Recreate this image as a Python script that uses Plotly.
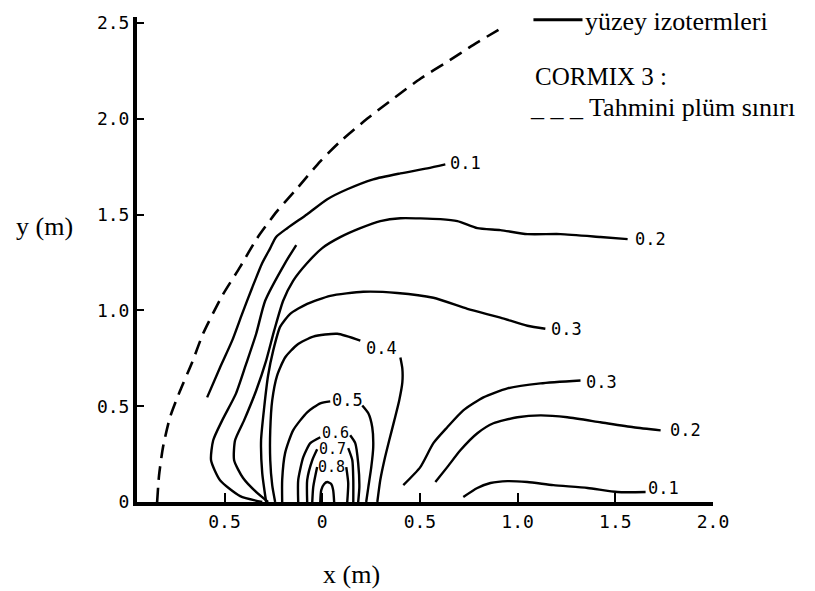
import plotly.graph_objects as go

# ---- axis ticks ----
x_tick_vals = [-1.0, -0.5, 0.0, 0.5, 1.0, 1.5, 2.0]
x_tick_text = ["-1.0", "0.5", "0", "0.5", "1.0", "1.5", "2.0"]
y_tick_vals = [0.0, 0.5, 1.0, 1.5, 2.0, 2.5]
y_tick_text = ["0", "0.5", "1.0", "1.5", "2.0", "2.5"]

# ---- CORMIX 3 predicted plume boundary (dashed) ----
plume_x = [-0.845, -0.835, -0.815, -0.779, -0.727, -0.666, -0.610, -0.512, -0.420, -0.333,
           -0.231, -0.128, -0.010, 0.092, 0.231, 0.364, 0.502, 0.640, 0.774, 0.902]
plume_y = [0.0, 0.140, 0.286, 0.442, 0.582, 0.728, 0.878, 1.076, 1.227, 1.377,
           1.518, 1.637, 1.778, 1.881, 2.001, 2.105, 2.209, 2.297, 2.386, 2.464]

# ---- surface isotherms (solid) ----
iso01_up_x = [-0.589, -0.523, -0.461, -0.410, -0.359, -0.307, -0.266, -0.236, -0.179, -0.077,
              0.026, 0.128, 0.261, 0.400, 0.538, 0.630]
iso01_up_y = [0.546, 0.702, 0.842, 0.982, 1.117, 1.247, 1.325, 1.383, 1.429, 1.502,
              1.580, 1.632, 1.684, 1.715, 1.741, 1.762]

iso015_x = [-0.133, -0.190, -0.292, -0.338, -0.389, -0.441, -0.512, -0.558, -0.569, -0.523,
            -0.420, -0.307]
iso015_y = [1.341, 1.247, 1.050, 0.878, 0.722, 0.567, 0.426, 0.322, 0.218, 0.114,
            0.031, 0.0]

iso02_up_x = [1.563, 1.424, 1.219, 1.050, 0.912, 0.794, 0.692, 0.605, 0.400, 0.297, 0.195,
              0.092, 0.0, -0.077, -0.149, -0.200, -0.246, -0.287, -0.338, -0.400, -0.446,
              -0.451, -0.405, -0.333, -0.277]
iso02_up_y = [1.372, 1.383, 1.398, 1.398, 1.419, 1.429, 1.466, 1.476, 1.481, 1.466, 1.429,
              1.382, 1.325, 1.247, 1.154, 1.050, 0.894, 0.738, 0.582, 0.426, 0.322,
              0.218, 0.125, 0.047, 0.0]

iso03_up_x = [1.142, 1.050, 0.912, 0.743, 0.569, 0.384, 0.210, 0.041, -0.077, -0.164, -0.215,
              -0.251, -0.277, -0.297, -0.313, -0.307, -0.287]
iso03_up_y = [0.904, 0.920, 0.962, 1.008, 1.066, 1.091, 1.097, 1.076, 1.034, 0.982, 0.915,
              0.790, 0.660, 0.494, 0.322, 0.151, 0.0]

iso04_l_x = [0.195, 0.077, -0.046, -0.128, -0.190, -0.231, -0.256, -0.266, -0.266, -0.256, -0.241]
iso04_l_y = [0.842, 0.878, 0.863, 0.821, 0.754, 0.660, 0.530, 0.374, 0.218, 0.088, 0.0]
iso04_r_x = [0.400, 0.410, 0.410, 0.394, 0.369, 0.343, 0.318, 0.297, 0.282]
iso04_r_y = [0.754, 0.696, 0.624, 0.530, 0.426, 0.322, 0.218, 0.114, 0.0]

iso05_l_x = [-0.205, -0.205, -0.190, -0.149, -0.077, -0.010, 0.041]
iso05_l_y = [0.0, 0.114, 0.255, 0.374, 0.468, 0.515, 0.525]
iso05_r_x = [0.205, 0.236, 0.256, 0.261, 0.251, 0.236, 0.225]
iso05_r_y = [0.504, 0.463, 0.390, 0.286, 0.182, 0.078, 0.0]

iso06_l_x = [-0.123, -0.123, -0.097, -0.061, -0.010]
iso06_l_y = [0.0, 0.114, 0.234, 0.307, 0.338]
iso06_r_x = [0.143, 0.169, 0.184, 0.190, 0.184]
iso06_r_y = [0.348, 0.307, 0.203, 0.078, 0.0]

iso07_l_x = [-0.077, -0.077, -0.051, -0.026]
iso07_l_y = [0.0, 0.114, 0.218, 0.275]
iso07_r_x = [0.133, 0.154, 0.159, 0.159]
iso07_r_y = [0.281, 0.218, 0.114, 0.0]

iso08_l_x = [-0.051, -0.046, -0.026]
iso08_l_y = [0.0, 0.078, 0.182]
iso08_r_x = [0.123, 0.133, 0.128]
iso08_r_y = [0.182, 0.099, 0.0]

iso09_x = [-0.010, -0.005, 0.010, 0.026, 0.046, 0.056, 0.061]
iso09_y = [0.0, 0.062, 0.094, 0.104, 0.094, 0.062, 0.0]

iso03_lo_x = [1.322, 1.117, 0.948, 0.825, 0.722, 0.640, 0.569, 0.502, 0.415]
iso03_lo_y = [0.634, 0.619, 0.593, 0.546, 0.478, 0.390, 0.307, 0.182, 0.088]

iso02_lo_x = [1.732, 1.593, 1.424, 1.255, 1.117, 0.999, 0.876, 0.794, 0.707, 0.640, 0.579]
iso02_lo_y = [0.374, 0.390, 0.416, 0.442, 0.452, 0.442, 0.411, 0.359, 0.270, 0.182, 0.104]

iso01_lo_x = [1.655, 1.511, 1.358, 1.183, 1.050, 0.948, 0.861, 0.794, 0.722]
iso01_lo_y = [0.052, 0.052, 0.073, 0.088, 0.104, 0.109, 0.099, 0.073, 0.026]

# ---- contour labels ----
label_text = ["0.1", "0.2", "0.3", "0.4", "0.5", "0.6", "0.7", "0.8", "0.3", "0.2", "0.1"]
label_x = [0.733, 1.680, 1.250, 0.302, 0.128, 0.067, 0.051, 0.046, 1.429, 1.860, 1.747]
label_y = [1.767, 1.372, 0.904, 0.806, 0.530, 0.362, 0.275, 0.185, 0.624, 0.374, 0.073]
label_size = [17, 17, 17, 17, 17, 15, 15, 15, 17, 17, 17]

fig = go.Figure()

fig.add_trace(go.Scatter(x=plume_x, y=plume_y, mode="lines",
                         line=dict(color="black", width=2.6, dash="14px,8px", shape="spline", smoothing=0.6),
                         hoverinfo="skip", showlegend=False))

solid = [
    (iso01_up_x, iso01_up_y), (iso015_x, iso015_y), (iso02_up_x, iso02_up_y),
    (iso03_up_x, iso03_up_y), (iso04_l_x, iso04_l_y), (iso04_r_x, iso04_r_y),
    (iso05_l_x, iso05_l_y), (iso05_r_x, iso05_r_y), (iso06_l_x, iso06_l_y),
    (iso06_r_x, iso06_r_y), (iso07_l_x, iso07_l_y), (iso07_r_x, iso07_r_y),
    (iso08_l_x, iso08_l_y), (iso08_r_x, iso08_r_y), (iso09_x, iso09_y),
    (iso03_lo_x, iso03_lo_y), (iso02_lo_x, iso02_lo_y), (iso01_lo_x, iso01_lo_y),
]
for xs, ys in solid:
    fig.add_trace(go.Scatter(x=xs, y=ys, mode="lines",
                             line=dict(color="black", width=2.4, shape="spline", smoothing=0.6),
                             hoverinfo="skip", showlegend=False))

annotations = []
for t, lx, ly, ls in zip(label_text, label_x, label_y, label_size):
    annotations.append(dict(x=lx, y=ly, xref="x", yref="y", text=t, showarrow=False,
                            xanchor="center", yanchor="middle",
                            font=dict(family="DejaVu Sans Mono", size=ls, color="black")))

# x tick label at -1.0 (left of the drawn y-axis)
annotations.append(dict(x=x_tick_vals[0], y=0, xref="x", yref="y", text=x_tick_text[0],
                        showarrow=False, xanchor="center", yanchor="top", yshift=-2, xshift=-6,
                        font=dict(family="DejaVu Sans Mono", size=18, color="black")))

serif = dict(family="Liberation Serif", size=26, color="black")
serif_s = dict(family="Liberation Serif", size=25, color="black")
annotations += [
    dict(x=-0.161, y=0.569, xref="paper", yref="paper", text="y (m)", showarrow=False,
         xanchor="center", yanchor="middle", font=serif),
    dict(x=0.372, y=-0.150, xref="paper", yref="paper", text="x (m)", showarrow=False,
         xanchor="center", yanchor="middle", font=serif),
    dict(x=1.337, y=2.510, xref="x", yref="y", text="yüzey izotermleri", showarrow=False,
         xanchor="left", yanchor="middle", font=serif),
    dict(x=1.081, y=2.219, xref="x", yref="y", text="CORMIX 3 :", showarrow=False,
         xanchor="left", yanchor="middle", font=serif_s),
    dict(x=1.055, y=2.060, xref="x", yref="y", text="_ _ _ Tahmini plüm sınırı", showarrow=False,
         xanchor="left", yanchor="middle", font=serif),
]

fig.add_shape(type="line", x0=1.081, x1=1.332, y0=2.516, y1=2.516, xref="x", yref="y",
              line=dict(color="black", width=3))

axis_common = dict(showline=True, linewidth=4, linecolor="black", ticks="inside",
                   tickcolor="black", tickwidth=2, showgrid=False, zeroline=False,
                   tickfont=dict(family="DejaVu Sans Mono", size=18, color="black"))

fig.update_layout(
    width=815, height=591,
    margin=dict(l=137, r=102, t=15, b=89),
    paper_bgcolor="white", plot_bgcolor="white",
    showlegend=False,
    xaxis=dict(range=[-0.948, 2.0], tickvals=x_tick_vals[1:], ticktext=x_tick_text[1:],
               ticklen=9, **axis_common),
    yaxis=dict(range=[0, 2.531], tickvals=y_tick_vals, ticktext=y_tick_text,
               ticklen=7, **axis_common),
    annotations=annotations,
)

fig.write_html("out.html")
